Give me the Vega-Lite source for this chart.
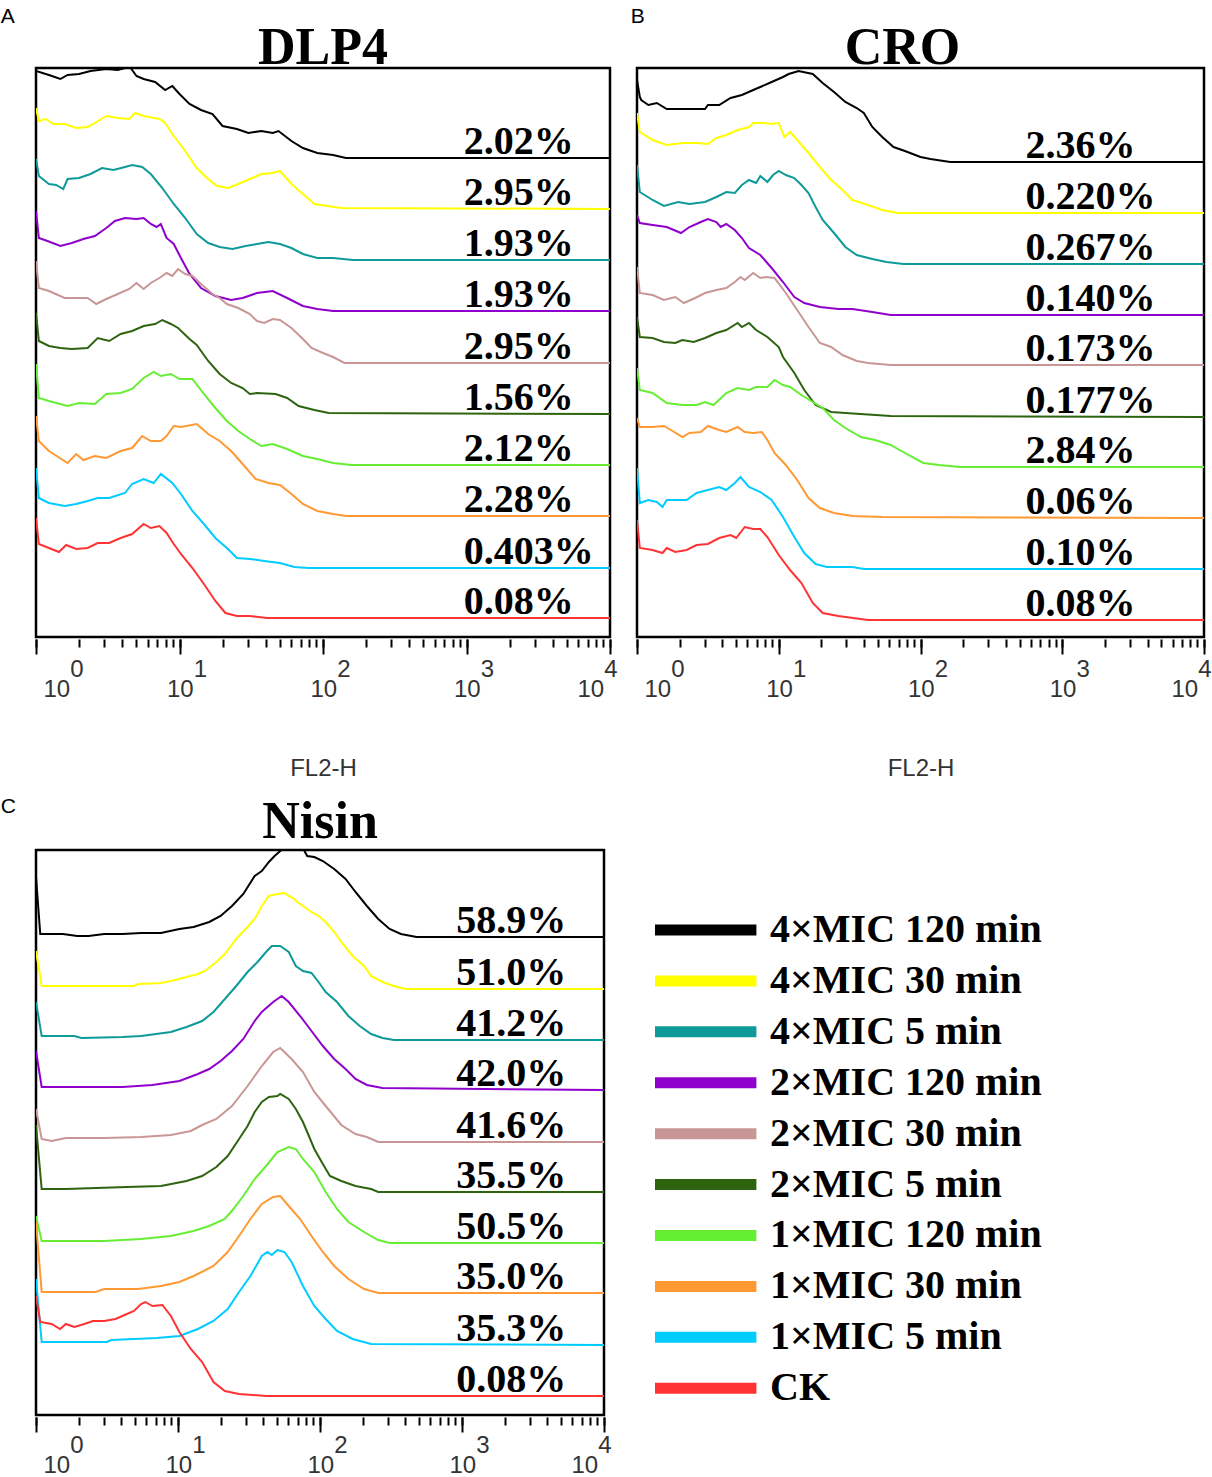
{
  "$schema": "https://vega.github.io/schema/vega-lite/v6.json",
  "background": "white",
  "padding": {"left": 0, "top": 5, "right": 0, "bottom": 0},
  "config": {
    "view": {"stroke": "black", "strokeWidth": 2.5},
    "axis": {"domain": false, "grid": false, "tickColor": "black", "tickWidth": 2, "labelFont": "Liberation Sans", "labelFontSize": 24, "labelColor": "#333333", "titleFont": "Liberation Sans", "titleFontSize": 24, "titleFontWeight": "normal", "titleColor": "#333333"}
  },
  "datasets": {
    "legend": [
      {"s": "4x120", "name": "4×MIC 120 min"},
      {"s": "4x30", "name": "4×MIC 30 min"},
      {"s": "4x5", "name": "4×MIC 5 min"},
      {"s": "2x120", "name": "2×MIC 120 min"},
      {"s": "2x30", "name": "2×MIC 30 min"},
      {"s": "2x5", "name": "2×MIC 5 min"},
      {"s": "1x120", "name": "1×MIC 120 min"},
      {"s": "1x30", "name": "1×MIC 30 min"},
      {"s": "1x5", "name": "1×MIC 5 min"},
      {"s": "CK", "name": "CK"}
    ],
    "labels": [
      {"p": "A", "s": "4x120", "pct": "2.02%", "base": 479},
      {"p": "A", "s": "4x30", "pct": "2.95%", "base": 428},
      {"p": "A", "s": "4x5", "pct": "1.93%", "base": 377},
      {"p": "A", "s": "2x120", "pct": "1.93%", "base": 326},
      {"p": "A", "s": "2x30", "pct": "2.95%", "base": 274},
      {"p": "A", "s": "2x5", "pct": "1.56%", "base": 223},
      {"p": "A", "s": "1x120", "pct": "2.12%", "base": 172},
      {"p": "A", "s": "1x30", "pct": "2.28%", "base": 121},
      {"p": "A", "s": "1x5", "pct": "0.403%", "base": 69},
      {"p": "A", "s": "CK", "pct": "0.08%", "base": 19},
      {"p": "B", "s": "4x120", "pct": "2.36%", "base": 475},
      {"p": "B", "s": "4x30", "pct": "0.220%", "base": 424},
      {"p": "B", "s": "4x5", "pct": "0.267%", "base": 373},
      {"p": "B", "s": "2x120", "pct": "0.140%", "base": 322},
      {"p": "B", "s": "2x30", "pct": "0.173%", "base": 272},
      {"p": "B", "s": "2x5", "pct": "0.177%", "base": 220},
      {"p": "B", "s": "1x120", "pct": "2.84%", "base": 170},
      {"p": "B", "s": "1x30", "pct": "0.06%", "base": 119},
      {"p": "B", "s": "1x5", "pct": "0.10%", "base": 68},
      {"p": "B", "s": "CK", "pct": "0.08%", "base": 17},
      {"p": "C", "s": "4x120", "pct": "58.9%", "base": 478},
      {"p": "C", "s": "4x30", "pct": "51.0%", "base": 426},
      {"p": "C", "s": "4x5", "pct": "41.2%", "base": 375},
      {"p": "C", "s": "2x120", "pct": "42.0%", "base": 325},
      {"p": "C", "s": "2x30", "pct": "41.6%", "base": 273},
      {"p": "C", "s": "2x5", "pct": "35.5%", "base": 223},
      {"p": "C", "s": "1x120", "pct": "50.5%", "base": 172},
      {"p": "C", "s": "1x30", "pct": "35.0%", "base": 122},
      {"p": "C", "s": "1x5", "pct": "35.3%", "base": 70},
      {"p": "C", "s": "CK", "pct": "0.08%", "base": 19}
    ],
    "curves": [
      {"p":"A","s":"4x120","x":0,"y":566},{"p":"A","s":"4x120","x":0.09,"y":562},{"p":"A","s":"4x120","x":0.17,"y":558},{"p":"A","s":"4x120","x":0.22,"y":562},{"p":"A","s":"4x120","x":0.30,"y":563},{"p":"A","s":"4x120","x":0.38,"y":566},{"p":"A","s":"4x120","x":0.49,"y":568},{"p":"A","s":"4x120","x":0.57,"y":567},{"p":"A","s":"4x120","x":0.62,"y":569},{"p":"A","s":"4x120","x":0.66,"y":569},{"p":"A","s":"4x120","x":0.70,"y":561},{"p":"A","s":"4x120","x":0.75,"y":558},{"p":"A","s":"4x120","x":0.83,"y":555},{"p":"A","s":"4x120","x":0.90,"y":547},{"p":"A","s":"4x120","x":0.95,"y":551},{"p":"A","s":"4x120","x":1.00,"y":543},{"p":"A","s":"4x120","x":1.07,"y":533},{"p":"A","s":"4x120","x":1.15,"y":527},{"p":"A","s":"4x120","x":1.23,"y":523},{"p":"A","s":"4x120","x":1.30,"y":511},{"p":"A","s":"4x120","x":1.40,"y":508},{"p":"A","s":"4x120","x":1.48,"y":504},{"p":"A","s":"4x120","x":1.57,"y":506},{"p":"A","s":"4x120","x":1.65,"y":504},{"p":"A","s":"4x120","x":1.69,"y":506},{"p":"A","s":"4x120","x":1.78,"y":496},{"p":"A","s":"4x120","x":1.86,"y":489},{"p":"A","s":"4x120","x":1.96,"y":484},{"p":"A","s":"4x120","x":2.07,"y":482},{"p":"A","s":"4x120","x":2.16,"y":479},{"p":"A","s":"4x120","x":4,"y":479},
      {"p":"A","s":"4x30","x":0,"y":529},{"p":"A","s":"4x30","x":0.02,"y":516},{"p":"A","s":"4x30","x":0.07,"y":518},{"p":"A","s":"4x30","x":0.12,"y":513},{"p":"A","s":"4x30","x":0.20,"y":513},{"p":"A","s":"4x30","x":0.28,"y":509},{"p":"A","s":"4x30","x":0.36,"y":510},{"p":"A","s":"4x30","x":0.41,"y":514},{"p":"A","s":"4x30","x":0.49,"y":521},{"p":"A","s":"4x30","x":0.57,"y":519},{"p":"A","s":"4x30","x":0.65,"y":518},{"p":"A","s":"4x30","x":0.69,"y":524},{"p":"A","s":"4x30","x":0.75,"y":521},{"p":"A","s":"4x30","x":0.86,"y":518},{"p":"A","s":"4x30","x":0.90,"y":514},{"p":"A","s":"4x30","x":0.96,"y":501},{"p":"A","s":"4x30","x":1.04,"y":486},{"p":"A","s":"4x30","x":1.12,"y":469},{"p":"A","s":"4x30","x":1.20,"y":458},{"p":"A","s":"4x30","x":1.26,"y":451},{"p":"A","s":"4x30","x":1.34,"y":449},{"p":"A","s":"4x30","x":1.41,"y":453},{"p":"A","s":"4x30","x":1.49,"y":458},{"p":"A","s":"4x30","x":1.57,"y":463},{"p":"A","s":"4x30","x":1.65,"y":464},{"p":"A","s":"4x30","x":1.70,"y":466},{"p":"A","s":"4x30","x":1.78,"y":453},{"p":"A","s":"4x30","x":1.86,"y":443},{"p":"A","s":"4x30","x":1.94,"y":433},{"p":"A","s":"4x30","x":2.03,"y":431},{"p":"A","s":"4x30","x":2.13,"y":429},{"p":"A","s":"4x30","x":4,"y":428},
      {"p":"A","s":"4x5","x":0,"y":478},{"p":"A","s":"4x5","x":0.02,"y":461},{"p":"A","s":"4x5","x":0.09,"y":453},{"p":"A","s":"4x5","x":0.14,"y":452},{"p":"A","s":"4x5","x":0.19,"y":448},{"p":"A","s":"4x5","x":0.22,"y":458},{"p":"A","s":"4x5","x":0.30,"y":459},{"p":"A","s":"4x5","x":0.38,"y":463},{"p":"A","s":"4x5","x":0.46,"y":469},{"p":"A","s":"4x5","x":0.54,"y":467},{"p":"A","s":"4x5","x":0.62,"y":470},{"p":"A","s":"4x5","x":0.67,"y":472},{"p":"A","s":"4x5","x":0.74,"y":470},{"p":"A","s":"4x5","x":0.80,"y":463},{"p":"A","s":"4x5","x":0.88,"y":449},{"p":"A","s":"4x5","x":0.96,"y":433},{"p":"A","s":"4x5","x":1.04,"y":419},{"p":"A","s":"4x5","x":1.12,"y":403},{"p":"A","s":"4x5","x":1.20,"y":394},{"p":"A","s":"4x5","x":1.28,"y":390},{"p":"A","s":"4x5","x":1.37,"y":388},{"p":"A","s":"4x5","x":1.46,"y":391},{"p":"A","s":"4x5","x":1.54,"y":393},{"p":"A","s":"4x5","x":1.62,"y":395},{"p":"A","s":"4x5","x":1.70,"y":393},{"p":"A","s":"4x5","x":1.78,"y":389},{"p":"A","s":"4x5","x":1.86,"y":383},{"p":"A","s":"4x5","x":1.96,"y":379},{"p":"A","s":"4x5","x":2.07,"y":379},{"p":"A","s":"4x5","x":2.21,"y":377},{"p":"A","s":"4x5","x":4,"y":377},
      {"p":"A","s":"2x120","x":0,"y":426},{"p":"A","s":"2x120","x":0.02,"y":399},{"p":"A","s":"2x120","x":0.08,"y":396},{"p":"A","s":"2x120","x":0.17,"y":391},{"p":"A","s":"2x120","x":0.25,"y":394},{"p":"A","s":"2x120","x":0.33,"y":398},{"p":"A","s":"2x120","x":0.41,"y":401},{"p":"A","s":"2x120","x":0.49,"y":409},{"p":"A","s":"2x120","x":0.55,"y":416},{"p":"A","s":"2x120","x":0.62,"y":419},{"p":"A","s":"2x120","x":0.70,"y":418},{"p":"A","s":"2x120","x":0.75,"y":419},{"p":"A","s":"2x120","x":0.80,"y":413},{"p":"A","s":"2x120","x":0.84,"y":410},{"p":"A","s":"2x120","x":0.87,"y":413},{"p":"A","s":"2x120","x":0.91,"y":399},{"p":"A","s":"2x120","x":0.96,"y":393},{"p":"A","s":"2x120","x":1.01,"y":379},{"p":"A","s":"2x120","x":1.07,"y":363},{"p":"A","s":"2x120","x":1.15,"y":349},{"p":"A","s":"2x120","x":1.25,"y":341},{"p":"A","s":"2x120","x":1.36,"y":337},{"p":"A","s":"2x120","x":1.44,"y":339},{"p":"A","s":"2x120","x":1.54,"y":344},{"p":"A","s":"2x120","x":1.65,"y":346},{"p":"A","s":"2x120","x":1.75,"y":339},{"p":"A","s":"2x120","x":1.86,"y":331},{"p":"A","s":"2x120","x":1.96,"y":328},{"p":"A","s":"2x120","x":2.07,"y":326},{"p":"A","s":"2x120","x":4,"y":326},
      {"p":"A","s":"2x30","x":0,"y":376},{"p":"A","s":"2x30","x":0.02,"y":349},{"p":"A","s":"2x30","x":0.09,"y":346},{"p":"A","s":"2x30","x":0.20,"y":339},{"p":"A","s":"2x30","x":0.28,"y":339},{"p":"A","s":"2x30","x":0.36,"y":339},{"p":"A","s":"2x30","x":0.42,"y":333},{"p":"A","s":"2x30","x":0.49,"y":338},{"p":"A","s":"2x30","x":0.57,"y":343},{"p":"A","s":"2x30","x":0.65,"y":348},{"p":"A","s":"2x30","x":0.70,"y":354},{"p":"A","s":"2x30","x":0.75,"y":348},{"p":"A","s":"2x30","x":0.80,"y":354},{"p":"A","s":"2x30","x":0.86,"y":359},{"p":"A","s":"2x30","x":0.91,"y":364},{"p":"A","s":"2x30","x":0.95,"y":361},{"p":"A","s":"2x30","x":0.99,"y":368},{"p":"A","s":"2x30","x":1.04,"y":363},{"p":"A","s":"2x30","x":1.09,"y":361},{"p":"A","s":"2x30","x":1.15,"y":353},{"p":"A","s":"2x30","x":1.23,"y":343},{"p":"A","s":"2x30","x":1.28,"y":339},{"p":"A","s":"2x30","x":1.33,"y":333},{"p":"A","s":"2x30","x":1.41,"y":329},{"p":"A","s":"2x30","x":1.49,"y":323},{"p":"A","s":"2x30","x":1.54,"y":316},{"p":"A","s":"2x30","x":1.59,"y":314},{"p":"A","s":"2x30","x":1.65,"y":318},{"p":"A","s":"2x30","x":1.70,"y":317},{"p":"A","s":"2x30","x":1.78,"y":309},{"p":"A","s":"2x30","x":1.86,"y":298},{"p":"A","s":"2x30","x":1.92,"y":289},{"p":"A","s":"2x30","x":2.00,"y":284},{"p":"A","s":"2x30","x":2.07,"y":280},{"p":"A","s":"2x30","x":2.15,"y":274},{"p":"A","s":"2x30","x":4,"y":274},
      {"p":"A","s":"2x5","x":0,"y":324},{"p":"A","s":"2x5","x":0.02,"y":296},{"p":"A","s":"2x5","x":0.09,"y":291},{"p":"A","s":"2x5","x":0.17,"y":289},{"p":"A","s":"2x5","x":0.25,"y":288},{"p":"A","s":"2x5","x":0.36,"y":289},{"p":"A","s":"2x5","x":0.43,"y":299},{"p":"A","s":"2x5","x":0.51,"y":296},{"p":"A","s":"2x5","x":0.59,"y":303},{"p":"A","s":"2x5","x":0.67,"y":306},{"p":"A","s":"2x5","x":0.75,"y":311},{"p":"A","s":"2x5","x":0.83,"y":313},{"p":"A","s":"2x5","x":0.88,"y":317},{"p":"A","s":"2x5","x":0.94,"y":313},{"p":"A","s":"2x5","x":0.99,"y":309},{"p":"A","s":"2x5","x":1.07,"y":298},{"p":"A","s":"2x5","x":1.12,"y":292},{"p":"A","s":"2x5","x":1.20,"y":276},{"p":"A","s":"2x5","x":1.28,"y":263},{"p":"A","s":"2x5","x":1.36,"y":254},{"p":"A","s":"2x5","x":1.44,"y":249},{"p":"A","s":"2x5","x":1.49,"y":243},{"p":"A","s":"2x5","x":1.54,"y":244},{"p":"A","s":"2x5","x":1.67,"y":243},{"p":"A","s":"2x5","x":1.75,"y":239},{"p":"A","s":"2x5","x":1.83,"y":231},{"p":"A","s":"2x5","x":1.94,"y":227},{"p":"A","s":"2x5","x":2.04,"y":224},{"p":"A","s":"2x5","x":4,"y":223},
      {"p":"A","s":"1x120","x":0,"y":273},{"p":"A","s":"1x120","x":0.02,"y":239},{"p":"A","s":"1x120","x":0.09,"y":236},{"p":"A","s":"1x120","x":0.22,"y":231},{"p":"A","s":"1x120","x":0.30,"y":234},{"p":"A","s":"1x120","x":0.41,"y":233},{"p":"A","s":"1x120","x":0.49,"y":243},{"p":"A","s":"1x120","x":0.59,"y":244},{"p":"A","s":"1x120","x":0.67,"y":248},{"p":"A","s":"1x120","x":0.75,"y":259},{"p":"A","s":"1x120","x":0.82,"y":265},{"p":"A","s":"1x120","x":0.87,"y":261},{"p":"A","s":"1x120","x":0.94,"y":263},{"p":"A","s":"1x120","x":1.00,"y":258},{"p":"A","s":"1x120","x":1.09,"y":258},{"p":"A","s":"1x120","x":1.17,"y":243},{"p":"A","s":"1x120","x":1.25,"y":229},{"p":"A","s":"1x120","x":1.33,"y":216},{"p":"A","s":"1x120","x":1.41,"y":206},{"p":"A","s":"1x120","x":1.49,"y":198},{"p":"A","s":"1x120","x":1.57,"y":191},{"p":"A","s":"1x120","x":1.65,"y":193},{"p":"A","s":"1x120","x":1.75,"y":188},{"p":"A","s":"1x120","x":1.86,"y":181},{"p":"A","s":"1x120","x":1.96,"y":178},{"p":"A","s":"1x120","x":2.07,"y":174},{"p":"A","s":"1x120","x":2.20,"y":172},{"p":"A","s":"1x120","x":4,"y":172},
      {"p":"A","s":"1x30","x":0,"y":221},{"p":"A","s":"1x30","x":0.02,"y":196},{"p":"A","s":"1x30","x":0.09,"y":186},{"p":"A","s":"1x30","x":0.22,"y":174},{"p":"A","s":"1x30","x":0.28,"y":183},{"p":"A","s":"1x30","x":0.33,"y":177},{"p":"A","s":"1x30","x":0.41,"y":181},{"p":"A","s":"1x30","x":0.49,"y":179},{"p":"A","s":"1x30","x":0.59,"y":186},{"p":"A","s":"1x30","x":0.67,"y":189},{"p":"A","s":"1x30","x":0.74,"y":201},{"p":"A","s":"1x30","x":0.80,"y":196},{"p":"A","s":"1x30","x":0.87,"y":196},{"p":"A","s":"1x30","x":0.91,"y":201},{"p":"A","s":"1x30","x":0.96,"y":211},{"p":"A","s":"1x30","x":1.01,"y":210},{"p":"A","s":"1x30","x":1.12,"y":213},{"p":"A","s":"1x30","x":1.20,"y":203},{"p":"A","s":"1x30","x":1.28,"y":196},{"p":"A","s":"1x30","x":1.36,"y":186},{"p":"A","s":"1x30","x":1.44,"y":173},{"p":"A","s":"1x30","x":1.53,"y":158},{"p":"A","s":"1x30","x":1.62,"y":154},{"p":"A","s":"1x30","x":1.70,"y":152},{"p":"A","s":"1x30","x":1.78,"y":143},{"p":"A","s":"1x30","x":1.86,"y":133},{"p":"A","s":"1x30","x":1.96,"y":126},{"p":"A","s":"1x30","x":2.07,"y":123},{"p":"A","s":"1x30","x":2.16,"y":121},{"p":"A","s":"1x30","x":4,"y":121},
      {"p":"A","s":"1x5","x":0,"y":169},{"p":"A","s":"1x5","x":0.02,"y":139},{"p":"A","s":"1x5","x":0.09,"y":134},{"p":"A","s":"1x5","x":0.20,"y":131},{"p":"A","s":"1x5","x":0.28,"y":133},{"p":"A","s":"1x5","x":0.36,"y":136},{"p":"A","s":"1x5","x":0.43,"y":139},{"p":"A","s":"1x5","x":0.51,"y":139},{"p":"A","s":"1x5","x":0.62,"y":144},{"p":"A","s":"1x5","x":0.67,"y":153},{"p":"A","s":"1x5","x":0.75,"y":158},{"p":"A","s":"1x5","x":0.82,"y":154},{"p":"A","s":"1x5","x":0.87,"y":163},{"p":"A","s":"1x5","x":0.95,"y":154},{"p":"A","s":"1x5","x":1.01,"y":143},{"p":"A","s":"1x5","x":1.09,"y":126},{"p":"A","s":"1x5","x":1.17,"y":113},{"p":"A","s":"1x5","x":1.25,"y":99},{"p":"A","s":"1x5","x":1.33,"y":89},{"p":"A","s":"1x5","x":1.40,"y":79},{"p":"A","s":"1x5","x":1.49,"y":78},{"p":"A","s":"1x5","x":1.59,"y":76},{"p":"A","s":"1x5","x":1.70,"y":74},{"p":"A","s":"1x5","x":1.80,"y":70},{"p":"A","s":"1x5","x":1.90,"y":69},{"p":"A","s":"1x5","x":4,"y":69},
      {"p":"A","s":"CK","x":0,"y":119},{"p":"A","s":"CK","x":0.02,"y":93},{"p":"A","s":"CK","x":0.09,"y":89},{"p":"A","s":"CK","x":0.16,"y":85},{"p":"A","s":"CK","x":0.21,"y":92},{"p":"A","s":"CK","x":0.28,"y":88},{"p":"A","s":"CK","x":0.36,"y":89},{"p":"A","s":"CK","x":0.43,"y":94},{"p":"A","s":"CK","x":0.51,"y":94},{"p":"A","s":"CK","x":0.59,"y":99},{"p":"A","s":"CK","x":0.67,"y":103},{"p":"A","s":"CK","x":0.75,"y":113},{"p":"A","s":"CK","x":0.80,"y":109},{"p":"A","s":"CK","x":0.86,"y":111},{"p":"A","s":"CK","x":0.91,"y":104},{"p":"A","s":"CK","x":0.96,"y":93},{"p":"A","s":"CK","x":1.01,"y":83},{"p":"A","s":"CK","x":1.09,"y":69},{"p":"A","s":"CK","x":1.17,"y":53},{"p":"A","s":"CK","x":1.25,"y":36},{"p":"A","s":"CK","x":1.32,"y":24},{"p":"A","s":"CK","x":1.40,"y":21},{"p":"A","s":"CK","x":1.49,"y":21},{"p":"A","s":"CK","x":1.61,"y":19},{"p":"A","s":"CK","x":4,"y":19},

      {"p":"B","s":"4x120","x":0,"y":557},{"p":"B","s":"4x120","x":0.02,"y":540},{"p":"B","s":"4x120","x":0.03,"y":537},{"p":"B","s":"4x120","x":0.08,"y":532},{"p":"B","s":"4x120","x":0.14,"y":534},{"p":"B","s":"4x120","x":0.21,"y":528},{"p":"B","s":"4x120","x":0.35,"y":528},{"p":"B","s":"4x120","x":0.48,"y":528},{"p":"B","s":"4x120","x":0.50,"y":532},{"p":"B","s":"4x120","x":0.58,"y":532},{"p":"B","s":"4x120","x":0.66,"y":539},{"p":"B","s":"4x120","x":0.74,"y":542},{"p":"B","s":"4x120","x":0.82,"y":547},{"p":"B","s":"4x120","x":0.87,"y":550},{"p":"B","s":"4x120","x":0.95,"y":555},{"p":"B","s":"4x120","x":1.03,"y":560},{"p":"B","s":"4x120","x":1.07,"y":563},{"p":"B","s":"4x120","x":1.14,"y":566},{"p":"B","s":"4x120","x":1.24,"y":563},{"p":"B","s":"4x120","x":1.31,"y":554},{"p":"B","s":"4x120","x":1.39,"y":545},{"p":"B","s":"4x120","x":1.47,"y":535},{"p":"B","s":"4x120","x":1.55,"y":529},{"p":"B","s":"4x120","x":1.60,"y":524},{"p":"B","s":"4x120","x":1.66,"y":510},{"p":"B","s":"4x120","x":1.73,"y":500},{"p":"B","s":"4x120","x":1.81,"y":490},{"p":"B","s":"4x120","x":1.89,"y":486},{"p":"B","s":"4x120","x":2.00,"y":480},{"p":"B","s":"4x120","x":2.07,"y":478},{"p":"B","s":"4x120","x":2.21,"y":475},{"p":"B","s":"4x120","x":4,"y":475},
      {"p":"B","s":"4x30","x":0,"y":524},{"p":"B","s":"4x30","x":0.02,"y":505},{"p":"B","s":"4x30","x":0.11,"y":497},{"p":"B","s":"4x30","x":0.21,"y":492},{"p":"B","s":"4x30","x":0.32,"y":494},{"p":"B","s":"4x30","x":0.42,"y":494},{"p":"B","s":"4x30","x":0.50,"y":493},{"p":"B","s":"4x30","x":0.56,"y":499},{"p":"B","s":"4x30","x":0.63,"y":502},{"p":"B","s":"4x30","x":0.71,"y":507},{"p":"B","s":"4x30","x":0.79,"y":510},{"p":"B","s":"4x30","x":0.82,"y":514},{"p":"B","s":"4x30","x":0.90,"y":514},{"p":"B","s":"4x30","x":0.95,"y":513},{"p":"B","s":"4x30","x":1.00,"y":514},{"p":"B","s":"4x30","x":1.04,"y":500},{"p":"B","s":"4x30","x":1.08,"y":505},{"p":"B","s":"4x30","x":1.13,"y":497},{"p":"B","s":"4x30","x":1.21,"y":484},{"p":"B","s":"4x30","x":1.29,"y":470},{"p":"B","s":"4x30","x":1.37,"y":457},{"p":"B","s":"4x30","x":1.45,"y":447},{"p":"B","s":"4x30","x":1.52,"y":437},{"p":"B","s":"4x30","x":1.63,"y":432},{"p":"B","s":"4x30","x":1.73,"y":427},{"p":"B","s":"4x30","x":1.84,"y":424},{"p":"B","s":"4x30","x":4,"y":424},
      {"p":"B","s":"4x5","x":0,"y":472},{"p":"B","s":"4x5","x":0.02,"y":445},{"p":"B","s":"4x5","x":0.11,"y":437},{"p":"B","s":"4x5","x":0.19,"y":431},{"p":"B","s":"4x5","x":0.29,"y":435},{"p":"B","s":"4x5","x":0.37,"y":433},{"p":"B","s":"4x5","x":0.48,"y":435},{"p":"B","s":"4x5","x":0.56,"y":440},{"p":"B","s":"4x5","x":0.63,"y":445},{"p":"B","s":"4x5","x":0.69,"y":444},{"p":"B","s":"4x5","x":0.74,"y":452},{"p":"B","s":"4x5","x":0.79,"y":457},{"p":"B","s":"4x5","x":0.84,"y":454},{"p":"B","s":"4x5","x":0.87,"y":461},{"p":"B","s":"4x5","x":0.92,"y":455},{"p":"B","s":"4x5","x":0.96,"y":462},{"p":"B","s":"4x5","x":1.00,"y":466},{"p":"B","s":"4x5","x":1.05,"y":462},{"p":"B","s":"4x5","x":1.11,"y":459},{"p":"B","s":"4x5","x":1.16,"y":452},{"p":"B","s":"4x5","x":1.21,"y":444},{"p":"B","s":"4x5","x":1.26,"y":430},{"p":"B","s":"4x5","x":1.31,"y":417},{"p":"B","s":"4x5","x":1.39,"y":404},{"p":"B","s":"4x5","x":1.47,"y":390},{"p":"B","s":"4x5","x":1.55,"y":382},{"p":"B","s":"4x5","x":1.66,"y":378},{"p":"B","s":"4x5","x":1.76,"y":375},{"p":"B","s":"4x5","x":1.88,"y":373},{"p":"B","s":"4x5","x":4,"y":373},
      {"p":"B","s":"2x120","x":0,"y":422},{"p":"B","s":"2x120","x":0.02,"y":414},{"p":"B","s":"2x120","x":0.11,"y":412},{"p":"B","s":"2x120","x":0.21,"y":410},{"p":"B","s":"2x120","x":0.31,"y":404},{"p":"B","s":"2x120","x":0.37,"y":410},{"p":"B","s":"2x120","x":0.45,"y":415},{"p":"B","s":"2x120","x":0.50,"y":418},{"p":"B","s":"2x120","x":0.56,"y":415},{"p":"B","s":"2x120","x":0.59,"y":410},{"p":"B","s":"2x120","x":0.63,"y":413},{"p":"B","s":"2x120","x":0.69,"y":407},{"p":"B","s":"2x120","x":0.74,"y":399},{"p":"B","s":"2x120","x":0.79,"y":389},{"p":"B","s":"2x120","x":0.87,"y":382},{"p":"B","s":"2x120","x":0.95,"y":369},{"p":"B","s":"2x120","x":1.03,"y":355},{"p":"B","s":"2x120","x":1.11,"y":340},{"p":"B","s":"2x120","x":1.18,"y":334},{"p":"B","s":"2x120","x":1.29,"y":330},{"p":"B","s":"2x120","x":1.42,"y":328},{"p":"B","s":"2x120","x":1.52,"y":328},{"p":"B","s":"2x120","x":1.66,"y":325},{"p":"B","s":"2x120","x":1.79,"y":322},{"p":"B","s":"2x120","x":4,"y":322},
      {"p":"B","s":"2x30","x":0,"y":370},{"p":"B","s":"2x30","x":0.02,"y":344},{"p":"B","s":"2x30","x":0.11,"y":342},{"p":"B","s":"2x30","x":0.19,"y":337},{"p":"B","s":"2x30","x":0.27,"y":340},{"p":"B","s":"2x30","x":0.33,"y":334},{"p":"B","s":"2x30","x":0.41,"y":339},{"p":"B","s":"2x30","x":0.48,"y":344},{"p":"B","s":"2x30","x":0.56,"y":347},{"p":"B","s":"2x30","x":0.63,"y":349},{"p":"B","s":"2x30","x":0.69,"y":355},{"p":"B","s":"2x30","x":0.73,"y":360},{"p":"B","s":"2x30","x":0.76,"y":357},{"p":"B","s":"2x30","x":0.82,"y":364},{"p":"B","s":"2x30","x":0.87,"y":359},{"p":"B","s":"2x30","x":0.91,"y":360},{"p":"B","s":"2x30","x":0.97,"y":359},{"p":"B","s":"2x30","x":1.05,"y":344},{"p":"B","s":"2x30","x":1.13,"y":327},{"p":"B","s":"2x30","x":1.21,"y":310},{"p":"B","s":"2x30","x":1.29,"y":294},{"p":"B","s":"2x30","x":1.37,"y":290},{"p":"B","s":"2x30","x":1.45,"y":282},{"p":"B","s":"2x30","x":1.55,"y":276},{"p":"B","s":"2x30","x":1.63,"y":274},{"p":"B","s":"2x30","x":1.79,"y":272},{"p":"B","s":"2x30","x":4,"y":272},
      {"p":"B","s":"2x5","x":0,"y":320},{"p":"B","s":"2x5","x":0.02,"y":300},{"p":"B","s":"2x5","x":0.11,"y":299},{"p":"B","s":"2x5","x":0.19,"y":295},{"p":"B","s":"2x5","x":0.27,"y":294},{"p":"B","s":"2x5","x":0.32,"y":297},{"p":"B","s":"2x5","x":0.40,"y":295},{"p":"B","s":"2x5","x":0.48,"y":299},{"p":"B","s":"2x5","x":0.56,"y":304},{"p":"B","s":"2x5","x":0.63,"y":307},{"p":"B","s":"2x5","x":0.71,"y":314},{"p":"B","s":"2x5","x":0.74,"y":310},{"p":"B","s":"2x5","x":0.79,"y":314},{"p":"B","s":"2x5","x":0.84,"y":307},{"p":"B","s":"2x5","x":0.92,"y":300},{"p":"B","s":"2x5","x":1.00,"y":290},{"p":"B","s":"2x5","x":1.03,"y":280},{"p":"B","s":"2x5","x":1.11,"y":264},{"p":"B","s":"2x5","x":1.18,"y":247},{"p":"B","s":"2x5","x":1.26,"y":232},{"p":"B","s":"2x5","x":1.37,"y":225},{"p":"B","s":"2x5","x":1.47,"y":224},{"p":"B","s":"2x5","x":1.79,"y":221},{"p":"B","s":"2x5","x":4,"y":220},
      {"p":"B","s":"1x120","x":0,"y":269},{"p":"B","s":"1x120","x":0.02,"y":247},{"p":"B","s":"1x120","x":0.11,"y":244},{"p":"B","s":"1x120","x":0.21,"y":234},{"p":"B","s":"1x120","x":0.32,"y":232},{"p":"B","s":"1x120","x":0.42,"y":232},{"p":"B","s":"1x120","x":0.48,"y":235},{"p":"B","s":"1x120","x":0.54,"y":232},{"p":"B","s":"1x120","x":0.63,"y":244},{"p":"B","s":"1x120","x":0.71,"y":249},{"p":"B","s":"1x120","x":0.79,"y":247},{"p":"B","s":"1x120","x":0.84,"y":250},{"p":"B","s":"1x120","x":0.92,"y":250},{"p":"B","s":"1x120","x":0.97,"y":257},{"p":"B","s":"1x120","x":1.03,"y":252},{"p":"B","s":"1x120","x":1.08,"y":250},{"p":"B","s":"1x120","x":1.16,"y":242},{"p":"B","s":"1x120","x":1.24,"y":235},{"p":"B","s":"1x120","x":1.31,"y":229},{"p":"B","s":"1x120","x":1.39,"y":217},{"p":"B","s":"1x120","x":1.47,"y":209},{"p":"B","s":"1x120","x":1.58,"y":200},{"p":"B","s":"1x120","x":1.68,"y":197},{"p":"B","s":"1x120","x":1.79,"y":192},{"p":"B","s":"1x120","x":1.89,"y":184},{"p":"B","s":"1x120","x":2.02,"y":174},{"p":"B","s":"1x120","x":2.13,"y":172},{"p":"B","s":"1x120","x":2.28,"y":170},{"p":"B","s":"1x120","x":4,"y":170},
      {"p":"B","s":"1x30","x":0,"y":219},{"p":"B","s":"1x30","x":0.02,"y":210},{"p":"B","s":"1x30","x":0.11,"y":210},{"p":"B","s":"1x30","x":0.19,"y":211},{"p":"B","s":"1x30","x":0.24,"y":207},{"p":"B","s":"1x30","x":0.32,"y":200},{"p":"B","s":"1x30","x":0.37,"y":204},{"p":"B","s":"1x30","x":0.45,"y":205},{"p":"B","s":"1x30","x":0.50,"y":211},{"p":"B","s":"1x30","x":0.58,"y":207},{"p":"B","s":"1x30","x":0.63,"y":205},{"p":"B","s":"1x30","x":0.71,"y":210},{"p":"B","s":"1x30","x":0.76,"y":205},{"p":"B","s":"1x30","x":0.82,"y":204},{"p":"B","s":"1x30","x":0.88,"y":205},{"p":"B","s":"1x30","x":0.92,"y":197},{"p":"B","s":"1x30","x":0.97,"y":184},{"p":"B","s":"1x30","x":1.05,"y":172},{"p":"B","s":"1x30","x":1.13,"y":157},{"p":"B","s":"1x30","x":1.21,"y":139},{"p":"B","s":"1x30","x":1.29,"y":129},{"p":"B","s":"1x30","x":1.39,"y":124},{"p":"B","s":"1x30","x":1.52,"y":121},{"p":"B","s":"1x30","x":1.73,"y":120},{"p":"B","s":"1x30","x":4,"y":119},
      {"p":"B","s":"1x5","x":0,"y":169},{"p":"B","s":"1x5","x":0.02,"y":134},{"p":"B","s":"1x5","x":0.08,"y":137},{"p":"B","s":"1x5","x":0.14,"y":135},{"p":"B","s":"1x5","x":0.18,"y":130},{"p":"B","s":"1x5","x":0.21,"y":137},{"p":"B","s":"1x5","x":0.35,"y":137},{"p":"B","s":"1x5","x":0.42,"y":144},{"p":"B","s":"1x5","x":0.50,"y":147},{"p":"B","s":"1x5","x":0.58,"y":150},{"p":"B","s":"1x5","x":0.63,"y":147},{"p":"B","s":"1x5","x":0.69,"y":154},{"p":"B","s":"1x5","x":0.73,"y":160},{"p":"B","s":"1x5","x":0.79,"y":150},{"p":"B","s":"1x5","x":0.87,"y":145},{"p":"B","s":"1x5","x":0.95,"y":137},{"p":"B","s":"1x5","x":1.03,"y":120},{"p":"B","s":"1x5","x":1.11,"y":100},{"p":"B","s":"1x5","x":1.18,"y":84},{"p":"B","s":"1x5","x":1.26,"y":73},{"p":"B","s":"1x5","x":1.34,"y":70},{"p":"B","s":"1x5","x":1.52,"y":70},{"p":"B","s":"1x5","x":1.60,"y":68},{"p":"B","s":"1x5","x":4,"y":68},
      {"p":"B","s":"CK","x":0,"y":117},{"p":"B","s":"CK","x":0.02,"y":89},{"p":"B","s":"CK","x":0.11,"y":87},{"p":"B","s":"CK","x":0.18,"y":84},{"p":"B","s":"CK","x":0.21,"y":89},{"p":"B","s":"CK","x":0.27,"y":85},{"p":"B","s":"CK","x":0.35,"y":87},{"p":"B","s":"CK","x":0.42,"y":92},{"p":"B","s":"CK","x":0.50,"y":93},{"p":"B","s":"CK","x":0.58,"y":99},{"p":"B","s":"CK","x":0.66,"y":102},{"p":"B","s":"CK","x":0.70,"y":99},{"p":"B","s":"CK","x":0.76,"y":110},{"p":"B","s":"CK","x":0.82,"y":108},{"p":"B","s":"CK","x":0.87,"y":108},{"p":"B","s":"CK","x":0.92,"y":100},{"p":"B","s":"CK","x":1.00,"y":82},{"p":"B","s":"CK","x":1.08,"y":67},{"p":"B","s":"CK","x":1.16,"y":54},{"p":"B","s":"CK","x":1.24,"y":34},{"p":"B","s":"CK","x":1.31,"y":24},{"p":"B","s":"CK","x":1.42,"y":21},{"p":"B","s":"CK","x":1.63,"y":17},{"p":"B","s":"CK","x":4,"y":17},

      {"p":"C","s":"4x120","x":0,"y":538},{"p":"C","s":"4x120","x":0.03,"y":481},{"p":"C","s":"4x120","x":0.11,"y":481},{"p":"C","s":"4x120","x":0.19,"y":481},{"p":"C","s":"4x120","x":0.29,"y":479},{"p":"C","s":"4x120","x":0.37,"y":479},{"p":"C","s":"4x120","x":0.48,"y":481},{"p":"C","s":"4x120","x":0.61,"y":481},{"p":"C","s":"4x120","x":0.74,"y":482},{"p":"C","s":"4x120","x":0.88,"y":482},{"p":"C","s":"4x120","x":1.01,"y":486},{"p":"C","s":"4x120","x":1.11,"y":488},{"p":"C","s":"4x120","x":1.22,"y":493},{"p":"C","s":"4x120","x":1.30,"y":499},{"p":"C","s":"4x120","x":1.38,"y":509},{"p":"C","s":"4x120","x":1.46,"y":521},{"p":"C","s":"4x120","x":1.54,"y":539},{"p":"C","s":"4x120","x":1.59,"y":544},{"p":"C","s":"4x120","x":1.64,"y":553},{"p":"C","s":"4x120","x":1.68,"y":559},{"p":"C","s":"4x120","x":1.72,"y":564},{"p":"C","s":"4x120","x":1.77,"y":572},{"p":"C","s":"4x120","x":1.86,"y":572},{"p":"C","s":"4x120","x":1.91,"y":559},{"p":"C","s":"4x120","x":1.96,"y":558},{"p":"C","s":"4x120","x":2.02,"y":554},{"p":"C","s":"4x120","x":2.10,"y":546},{"p":"C","s":"4x120","x":2.18,"y":536},{"p":"C","s":"4x120","x":2.25,"y":523},{"p":"C","s":"4x120","x":2.33,"y":509},{"p":"C","s":"4x120","x":2.41,"y":496},{"p":"C","s":"4x120","x":2.49,"y":486},{"p":"C","s":"4x120","x":2.57,"y":481},{"p":"C","s":"4x120","x":2.68,"y":478},{"p":"C","s":"4x120","x":4,"y":478},
      {"p":"C","s":"4x30","x":0,"y":464},{"p":"C","s":"4x30","x":0.04,"y":429},{"p":"C","s":"4x30","x":0.69,"y":429},{"p":"C","s":"4x30","x":0.72,"y":431},{"p":"C","s":"4x30","x":0.88,"y":432},{"p":"C","s":"4x30","x":0.95,"y":434},{"p":"C","s":"4x30","x":1.06,"y":438},{"p":"C","s":"4x30","x":1.14,"y":441},{"p":"C","s":"4x30","x":1.19,"y":444},{"p":"C","s":"4x30","x":1.27,"y":453},{"p":"C","s":"4x30","x":1.33,"y":461},{"p":"C","s":"4x30","x":1.41,"y":476},{"p":"C","s":"4x30","x":1.49,"y":488},{"p":"C","s":"4x30","x":1.54,"y":496},{"p":"C","s":"4x30","x":1.59,"y":509},{"p":"C","s":"4x30","x":1.64,"y":519},{"p":"C","s":"4x30","x":1.70,"y":521},{"p":"C","s":"4x30","x":1.75,"y":522},{"p":"C","s":"4x30","x":1.78,"y":519},{"p":"C","s":"4x30","x":1.82,"y":516},{"p":"C","s":"4x30","x":1.84,"y":513},{"p":"C","s":"4x30","x":1.88,"y":509},{"p":"C","s":"4x30","x":1.94,"y":503},{"p":"C","s":"4x30","x":1.99,"y":499},{"p":"C","s":"4x30","x":2.04,"y":493},{"p":"C","s":"4x30","x":2.10,"y":483},{"p":"C","s":"4x30","x":2.15,"y":473},{"p":"C","s":"4x30","x":2.23,"y":459},{"p":"C","s":"4x30","x":2.31,"y":449},{"p":"C","s":"4x30","x":2.36,"y":439},{"p":"C","s":"4x30","x":2.44,"y":433},{"p":"C","s":"4x30","x":2.52,"y":429},{"p":"C","s":"4x30","x":2.60,"y":426},{"p":"C","s":"4x30","x":4,"y":426},
      {"p":"C","s":"4x5","x":0,"y":413},{"p":"C","s":"4x5","x":0.04,"y":379},{"p":"C","s":"4x5","x":0.27,"y":379},{"p":"C","s":"4x5","x":0.32,"y":377},{"p":"C","s":"4x5","x":0.61,"y":378},{"p":"C","s":"4x5","x":0.74,"y":379},{"p":"C","s":"4x5","x":0.95,"y":383},{"p":"C","s":"4x5","x":1.06,"y":388},{"p":"C","s":"4x5","x":1.17,"y":394},{"p":"C","s":"4x5","x":1.25,"y":403},{"p":"C","s":"4x5","x":1.33,"y":416},{"p":"C","s":"4x5","x":1.41,"y":429},{"p":"C","s":"4x5","x":1.49,"y":443},{"p":"C","s":"4x5","x":1.56,"y":453},{"p":"C","s":"4x5","x":1.62,"y":463},{"p":"C","s":"4x5","x":1.66,"y":469},{"p":"C","s":"4x5","x":1.72,"y":469},{"p":"C","s":"4x5","x":1.78,"y":463},{"p":"C","s":"4x5","x":1.83,"y":449},{"p":"C","s":"4x5","x":1.88,"y":444},{"p":"C","s":"4x5","x":1.94,"y":442},{"p":"C","s":"4x5","x":1.99,"y":433},{"p":"C","s":"4x5","x":2.04,"y":423},{"p":"C","s":"4x5","x":2.12,"y":413},{"p":"C","s":"4x5","x":2.20,"y":399},{"p":"C","s":"4x5","x":2.28,"y":389},{"p":"C","s":"4x5","x":2.36,"y":381},{"p":"C","s":"4x5","x":2.44,"y":377},{"p":"C","s":"4x5","x":2.52,"y":375},{"p":"C","s":"4x5","x":4,"y":375},
      {"p":"C","s":"2x120","x":0,"y":364},{"p":"C","s":"2x120","x":0.04,"y":328},{"p":"C","s":"2x120","x":0.61,"y":328},{"p":"C","s":"2x120","x":0.82,"y":330},{"p":"C","s":"2x120","x":1.01,"y":334},{"p":"C","s":"2x120","x":1.14,"y":341},{"p":"C","s":"2x120","x":1.22,"y":346},{"p":"C","s":"2x120","x":1.30,"y":354},{"p":"C","s":"2x120","x":1.38,"y":364},{"p":"C","s":"2x120","x":1.46,"y":376},{"p":"C","s":"2x120","x":1.54,"y":394},{"p":"C","s":"2x120","x":1.59,"y":403},{"p":"C","s":"2x120","x":1.67,"y":413},{"p":"C","s":"2x120","x":1.73,"y":419},{"p":"C","s":"2x120","x":1.78,"y":413},{"p":"C","s":"2x120","x":1.86,"y":399},{"p":"C","s":"2x120","x":1.94,"y":384},{"p":"C","s":"2x120","x":2.02,"y":369},{"p":"C","s":"2x120","x":2.10,"y":356},{"p":"C","s":"2x120","x":2.18,"y":346},{"p":"C","s":"2x120","x":2.25,"y":336},{"p":"C","s":"2x120","x":2.33,"y":330},{"p":"C","s":"2x120","x":2.44,"y":327},{"p":"C","s":"2x120","x":4,"y":325},
      {"p":"C","s":"2x30","x":0,"y":306},{"p":"C","s":"2x30","x":0.04,"y":276},{"p":"C","s":"2x30","x":0.11,"y":274},{"p":"C","s":"2x30","x":0.21,"y":277},{"p":"C","s":"2x30","x":0.48,"y":277},{"p":"C","s":"2x30","x":0.74,"y":278},{"p":"C","s":"2x30","x":0.95,"y":280},{"p":"C","s":"2x30","x":1.09,"y":284},{"p":"C","s":"2x30","x":1.17,"y":290},{"p":"C","s":"2x30","x":1.27,"y":296},{"p":"C","s":"2x30","x":1.38,"y":309},{"p":"C","s":"2x30","x":1.49,"y":329},{"p":"C","s":"2x30","x":1.59,"y":349},{"p":"C","s":"2x30","x":1.67,"y":363},{"p":"C","s":"2x30","x":1.72,"y":367},{"p":"C","s":"2x30","x":1.80,"y":356},{"p":"C","s":"2x30","x":1.88,"y":343},{"p":"C","s":"2x30","x":1.96,"y":323},{"p":"C","s":"2x30","x":2.04,"y":309},{"p":"C","s":"2x30","x":2.15,"y":290},{"p":"C","s":"2x30","x":2.25,"y":281},{"p":"C","s":"2x30","x":2.33,"y":278},{"p":"C","s":"2x30","x":2.41,"y":273},{"p":"C","s":"2x30","x":4,"y":273},
      {"p":"C","s":"2x5","x":0,"y":290},{"p":"C","s":"2x5","x":0.04,"y":226},{"p":"C","s":"2x5","x":0.21,"y":226},{"p":"C","s":"2x5","x":0.64,"y":228},{"p":"C","s":"2x5","x":0.88,"y":229},{"p":"C","s":"2x5","x":1.06,"y":234},{"p":"C","s":"2x5","x":1.17,"y":239},{"p":"C","s":"2x5","x":1.27,"y":248},{"p":"C","s":"2x5","x":1.35,"y":259},{"p":"C","s":"2x5","x":1.43,"y":276},{"p":"C","s":"2x5","x":1.49,"y":289},{"p":"C","s":"2x5","x":1.54,"y":303},{"p":"C","s":"2x5","x":1.59,"y":313},{"p":"C","s":"2x5","x":1.64,"y":318},{"p":"C","s":"2x5","x":1.70,"y":319},{"p":"C","s":"2x5","x":1.72,"y":321},{"p":"C","s":"2x5","x":1.78,"y":316},{"p":"C","s":"2x5","x":1.83,"y":306},{"p":"C","s":"2x5","x":1.88,"y":293},{"p":"C","s":"2x5","x":1.91,"y":283},{"p":"C","s":"2x5","x":1.96,"y":266},{"p":"C","s":"2x5","x":2.02,"y":251},{"p":"C","s":"2x5","x":2.07,"y":239},{"p":"C","s":"2x5","x":2.15,"y":234},{"p":"C","s":"2x5","x":2.25,"y":229},{"p":"C","s":"2x5","x":2.36,"y":226},{"p":"C","s":"2x5","x":2.41,"y":223},{"p":"C","s":"2x5","x":4,"y":223},
      {"p":"C","s":"1x120","x":0,"y":199},{"p":"C","s":"1x120","x":0.04,"y":174},{"p":"C","s":"1x120","x":0.48,"y":174},{"p":"C","s":"1x120","x":0.74,"y":176},{"p":"C","s":"1x120","x":0.95,"y":179},{"p":"C","s":"1x120","x":1.11,"y":184},{"p":"C","s":"1x120","x":1.22,"y":189},{"p":"C","s":"1x120","x":1.33,"y":196},{"p":"C","s":"1x120","x":1.39,"y":206},{"p":"C","s":"1x120","x":1.46,"y":219},{"p":"C","s":"1x120","x":1.54,"y":236},{"p":"C","s":"1x120","x":1.62,"y":249},{"p":"C","s":"1x120","x":1.70,"y":263},{"p":"C","s":"1x120","x":1.78,"y":268},{"p":"C","s":"1x120","x":1.83,"y":266},{"p":"C","s":"1x120","x":1.88,"y":256},{"p":"C","s":"1x120","x":1.96,"y":243},{"p":"C","s":"1x120","x":2.04,"y":223},{"p":"C","s":"1x120","x":2.12,"y":206},{"p":"C","s":"1x120","x":2.20,"y":193},{"p":"C","s":"1x120","x":2.31,"y":183},{"p":"C","s":"1x120","x":2.41,"y":175},{"p":"C","s":"1x120","x":2.49,"y":172},{"p":"C","s":"1x120","x":4,"y":172},
      {"p":"C","s":"1x30","x":0,"y":193},{"p":"C","s":"1x30","x":0.04,"y":123},{"p":"C","s":"1x30","x":0.42,"y":123},{"p":"C","s":"1x30","x":0.48,"y":126},{"p":"C","s":"1x30","x":0.72,"y":126},{"p":"C","s":"1x30","x":0.88,"y":129},{"p":"C","s":"1x30","x":1.01,"y":133},{"p":"C","s":"1x30","x":1.11,"y":139},{"p":"C","s":"1x30","x":1.25,"y":149},{"p":"C","s":"1x30","x":1.35,"y":163},{"p":"C","s":"1x30","x":1.43,"y":179},{"p":"C","s":"1x30","x":1.51,"y":196},{"p":"C","s":"1x30","x":1.59,"y":211},{"p":"C","s":"1x30","x":1.67,"y":218},{"p":"C","s":"1x30","x":1.72,"y":219},{"p":"C","s":"1x30","x":1.78,"y":209},{"p":"C","s":"1x30","x":1.86,"y":196},{"p":"C","s":"1x30","x":1.94,"y":179},{"p":"C","s":"1x30","x":2.02,"y":163},{"p":"C","s":"1x30","x":2.10,"y":149},{"p":"C","s":"1x30","x":2.20,"y":136},{"p":"C","s":"1x30","x":2.31,"y":126},{"p":"C","s":"1x30","x":2.41,"y":122},{"p":"C","s":"1x30","x":4,"y":122},
      {"p":"C","s":"1x5","x":0,"y":136},{"p":"C","s":"1x5","x":0.04,"y":73},{"p":"C","s":"1x5","x":0.50,"y":73},{"p":"C","s":"1x5","x":0.53,"y":75},{"p":"C","s":"1x5","x":0.85,"y":77},{"p":"C","s":"1x5","x":1.01,"y":79},{"p":"C","s":"1x5","x":1.14,"y":86},{"p":"C","s":"1x5","x":1.25,"y":94},{"p":"C","s":"1x5","x":1.35,"y":106},{"p":"C","s":"1x5","x":1.43,"y":123},{"p":"C","s":"1x5","x":1.51,"y":139},{"p":"C","s":"1x5","x":1.59,"y":159},{"p":"C","s":"1x5","x":1.63,"y":163},{"p":"C","s":"1x5","x":1.66,"y":160},{"p":"C","s":"1x5","x":1.70,"y":165},{"p":"C","s":"1x5","x":1.75,"y":163},{"p":"C","s":"1x5","x":1.80,"y":153},{"p":"C","s":"1x5","x":1.88,"y":129},{"p":"C","s":"1x5","x":1.96,"y":109},{"p":"C","s":"1x5","x":2.04,"y":96},{"p":"C","s":"1x5","x":2.12,"y":84},{"p":"C","s":"1x5","x":2.23,"y":76},{"p":"C","s":"1x5","x":2.36,"y":71},{"p":"C","s":"1x5","x":4,"y":70},
      {"p":"C","s":"CK","x":0,"y":119},{"p":"C","s":"CK","x":0.03,"y":93},{"p":"C","s":"CK","x":0.11,"y":91},{"p":"C","s":"CK","x":0.17,"y":86},{"p":"C","s":"CK","x":0.21,"y":91},{"p":"C","s":"CK","x":0.27,"y":88},{"p":"C","s":"CK","x":0.34,"y":91},{"p":"C","s":"CK","x":0.40,"y":94},{"p":"C","s":"CK","x":0.48,"y":94},{"p":"C","s":"CK","x":0.56,"y":96},{"p":"C","s":"CK","x":0.64,"y":101},{"p":"C","s":"CK","x":0.69,"y":104},{"p":"C","s":"CK","x":0.74,"y":111},{"p":"C","s":"CK","x":0.77,"y":113},{"p":"C","s":"CK","x":0.82,"y":109},{"p":"C","s":"CK","x":0.89,"y":110},{"p":"C","s":"CK","x":0.95,"y":99},{"p":"C","s":"CK","x":1.01,"y":83},{"p":"C","s":"CK","x":1.09,"y":66},{"p":"C","s":"CK","x":1.17,"y":53},{"p":"C","s":"CK","x":1.25,"y":33},{"p":"C","s":"CK","x":1.33,"y":24},{"p":"C","s":"CK","x":1.43,"y":21},{"p":"C","s":"CK","x":1.62,"y":19},{"p":"C","s":"CK","x":4,"y":19}
    ]
  },
  "spacing": 12,
  "vconcat": [
    {
      "spacing": 11,
      "hconcat": [
        {
          "title": {"text": "A", "anchor": "start", "font": "Liberation Sans", "fontSize": 21, "fontWeight": "normal", "color": "black", "dx": -33, "offset": -6},
          "vconcat": [
            {
              "width": 574,
              "height": 569,
              "title": {"text": "DLP4", "font": "Liberation Serif", "fontSize": 52, "fontWeight": "bold", "color": "black", "offset": -7},
              "resolve": {"axis": {"x": "independent"}},
              "layer": [
                {
                  "data": {"name": "curves"},
                  "transform": [{"filter": "datum.p == 'A'"}],
                  "mark": {"type": "line", "clip": true, "strokeWidth": 2},
                  "encoding": {
                    "x": {"field": "x", "type": "quantitative", "scale": {"domain": [0, 4], "nice": false, "zero": false},
                      "axis": {"orient": "bottom", "offset": 2, "values": [0,0.301,0.477,0.602,0.699,0.778,0.845,0.903,0.954,1,1.301,1.477,1.602,1.699,1.778,1.845,1.903,1.954,2,2.301,2.477,2.602,2.699,2.778,2.845,2.903,2.954,3,3.301,3.477,3.602,3.699,3.778,3.845,3.903,3.954,4], "tickSize": 8, "labels": false, "title": null}},
                    "y": {"field": "y", "type": "quantitative", "scale": {"domain": [0, 569], "nice": false}, "axis": null},
                    "color": {"field": "s", "type": "nominal", "legend": null,
                      "scale": {"domain": ["4x120","4x30","4x5","2x120","2x30","2x5","1x120","1x30","1x5","CK"], "range": ["#000000","#ffff00","#0f9a9a","#9000cc","#c99696","#2e6410","#66ee33","#ff9933","#00ccff","#ff3333"]}}
                  }
                },
                {
                  "data": {"name": "labels"},
                  "transform": [{"filter": "datum.p == 'A'"}],
                  "mark": {"type": "text", "align": "left", "baseline": "alphabetic", "dy": -4, "font": "Liberation Serif", "fontWeight": "bold", "fontSize": 40, "color": "black"},
                  "encoding": {
                    "x": {"datum": 2.98, "type": "quantitative",
                      "axis": {"orient": "bottom", "offset": 2, "values": [0, 1, 2, 3, 4], "tickSize": 15,
                        "labelExpr": "['\u200b\u00a0\u00a0\u00a0\u00a0' + datum.value, '10\u00a0\u00a0\u200b']",
                        "labelBaseline": "top", "labelLineHeight": 20, "labelPadding": 3, "labelFlush": true, "labelOffset": 7, "labelOverlap": false, "labelBound": false,
                        "title": "FL2-H", "titlePadding": 55}},
                    "y": {"field": "base", "type": "quantitative"},
                    "text": {"field": "pct"}
                  }
                }
              ]
            }
          ]
        },
        {
          "title": {"text": "B", "anchor": "start", "font": "Liberation Sans", "fontSize": 21, "fontWeight": "normal", "color": "black", "dx": -4, "offset": -6},
          "vconcat": [
            {
              "width": 567,
              "height": 569,
              "title": {"text": "CRO", "font": "Liberation Serif", "fontSize": 52, "fontWeight": "bold", "color": "black", "offset": -7, "dx": -18},
              "resolve": {"axis": {"x": "independent"}},
              "layer": [
                {
                  "data": {"name": "curves"},
                  "transform": [{"filter": "datum.p == 'B'"}],
                  "mark": {"type": "line", "clip": true, "strokeWidth": 2},
                  "encoding": {
                    "x": {"field": "x", "type": "quantitative", "scale": {"domain": [0, 4], "nice": false, "zero": false},
                      "axis": {"orient": "bottom", "offset": 2, "values": [0,0.301,0.477,0.602,0.699,0.778,0.845,0.903,0.954,1,1.301,1.477,1.602,1.699,1.778,1.845,1.903,1.954,2,2.301,2.477,2.602,2.699,2.778,2.845,2.903,2.954,3,3.301,3.477,3.602,3.699,3.778,3.845,3.903,3.954,4], "tickSize": 8, "labels": false, "title": null}},
                    "y": {"field": "y", "type": "quantitative", "scale": {"domain": [0, 569], "nice": false}, "axis": null},
                    "color": {"field": "s", "type": "nominal", "legend": null,
                      "scale": {"domain": ["4x120","4x30","4x5","2x120","2x30","2x5","1x120","1x30","1x5","CK"], "range": ["#000000","#ffff00","#0f9a9a","#9000cc","#c99696","#2e6410","#66ee33","#ff9933","#00ccff","#ff3333"]}}
                  }
                },
                {
                  "data": {"name": "labels"},
                  "transform": [{"filter": "datum.p == 'B'"}],
                  "mark": {"type": "text", "align": "left", "baseline": "alphabetic", "dy": -4, "font": "Liberation Serif", "fontWeight": "bold", "fontSize": 40, "color": "black"},
                  "encoding": {
                    "x": {"datum": 2.74, "type": "quantitative",
                      "axis": {"orient": "bottom", "offset": 2, "values": [0, 1, 2, 3, 4], "tickSize": 15,
                        "labelExpr": "['\u200b\u00a0\u00a0\u00a0\u00a0' + datum.value, '10\u00a0\u00a0\u200b']",
                        "labelBaseline": "top", "labelLineHeight": 20, "labelPadding": 3, "labelFlush": true, "labelOffset": 7, "labelOverlap": false, "labelBound": false,
                        "title": "FL2-H", "titlePadding": 55}},
                    "y": {"field": "base", "type": "quantitative"},
                    "text": {"field": "pct"}
                  }
                }
              ]
            }
          ]
        }
      ]
    },
    {
      "spacing": 36,
      "hconcat": [
        {
          "title": {"text": "C", "anchor": "start", "font": "Liberation Sans", "fontSize": 21, "fontWeight": "normal", "color": "black", "dx": -33, "offset": -22},
          "vconcat": [
            {
              "width": 568,
              "height": 565,
              "title": {"text": "Nisin", "font": "Liberation Serif", "fontSize": 52, "fontWeight": "bold", "color": "black", "offset": 1},
              "resolve": {"axis": {"x": "independent"}},
              "layer": [
                {
                  "data": {"name": "curves"},
                  "transform": [{"filter": "datum.p == 'C'"}],
                  "mark": {"type": "line", "clip": true, "strokeWidth": 2},
                  "encoding": {
                    "x": {"field": "x", "type": "quantitative", "scale": {"domain": [0, 4], "nice": false, "zero": false},
                      "axis": {"orient": "bottom", "offset": 2, "values": [0,0.301,0.477,0.602,0.699,0.778,0.845,0.903,0.954,1,1.301,1.477,1.602,1.699,1.778,1.845,1.903,1.954,2,2.301,2.477,2.602,2.699,2.778,2.845,2.903,2.954,3,3.301,3.477,3.602,3.699,3.778,3.845,3.903,3.954,4], "tickSize": 8, "labels": false, "title": null}},
                    "y": {"field": "y", "type": "quantitative", "scale": {"domain": [0, 565], "nice": false}, "axis": null},
                    "color": {"field": "s", "type": "nominal", "legend": null,
                      "scale": {"domain": ["4x120","4x30","4x5","2x120","2x30","2x5","1x120","1x30","1x5","CK"], "range": ["#000000","#ffff00","#0f9a9a","#9000cc","#c99696","#2e6410","#66ee33","#ff9933","#00ccff","#ff3333"]}}
                  }
                },
                {
                  "data": {"name": "labels"},
                  "transform": [{"filter": "datum.p == 'C'"}],
                  "mark": {"type": "text", "align": "left", "baseline": "alphabetic", "dy": -4, "font": "Liberation Serif", "fontWeight": "bold", "fontSize": 40, "color": "black"},
                  "encoding": {
                    "x": {"datum": 2.96, "type": "quantitative",
                      "axis": {"orient": "bottom", "offset": 2, "values": [0, 1, 2, 3, 4], "tickSize": 15,
                        "labelExpr": "['\u200b\u00a0\u00a0\u00a0\u00a0' + datum.value, '10\u00a0\u00a0\u200b']",
                        "labelBaseline": "top", "labelLineHeight": 20, "labelPadding": 1, "labelFlush": true, "labelOffset": 7, "labelOverlap": false, "labelBound": false,
                        "title": null}},
                    "y": {"field": "base", "type": "quantitative"},
                    "text": {"field": "pct"}
                  }
                }
              ]
            }
          ]
        },
        {
          "width": 390,
          "height": 560,
          "view": {"stroke": null},
          "data": {"name": "legend"},
          "layer": [
            {
              "mark": {"type": "rule", "strokeWidth": 11},
              "encoding": {
                "x": {"datum": 0, "type": "quantitative", "scale": {"domain": [0, 10], "nice": false}, "axis": null},
                "x2": {"datum": 2.6},
                "y": {"field": "s", "type": "nominal", "scale": {"type": "point", "domain": ["4x120","4x30","4x5","2x120","2x30","2x5","1x120","1x30","1x5","CK"], "padding": 1, "align": 0.786}, "axis": null},
                "color": {"field": "s", "type": "nominal", "legend": null,
                  "scale": {"domain": ["4x120","4x30","4x5","2x120","2x30","2x5","1x120","1x30","1x5","CK"], "range": ["#000000","#ffff00","#0f9a9a","#9000cc","#c99696","#2e6410","#66ee33","#ff9933","#00ccff","#ff3333"]}}
              }
            },
            {
              "mark": {"type": "text", "align": "left", "baseline": "middle", "font": "Liberation Serif", "fontWeight": "bold", "fontSize": 40, "color": "black"},
              "encoding": {
                "x": {"datum": 2.95},
                "y": {"field": "s", "type": "nominal"},
                "text": {"field": "name"}
              }
            }
          ]
        }
      ]
    }
  ]
}
